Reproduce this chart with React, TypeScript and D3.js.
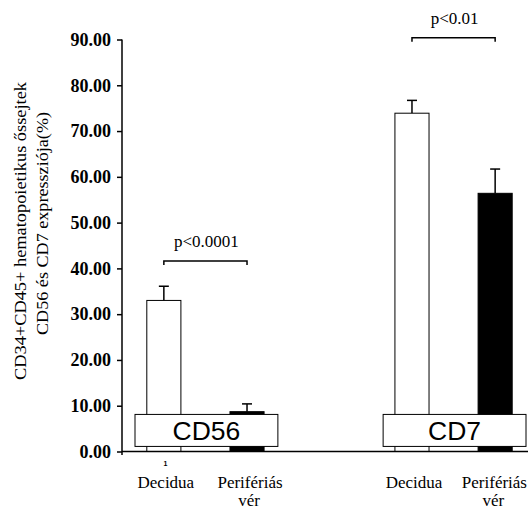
import React, { useEffect, useRef } from 'react';
import * as d3 from 'd3';

// CD56 / CD7 expression, decidua vs peripheral blood
const groups = ['CD56', 'CD7'];
const sources = ['Decidua', 'Perifériás vér'];
const deciduaMeans = [33.0, 73.9];
const deciduaErrors = [3.1, 2.8];
const periphMeans = [8.7, 56.4];
const periphErrors = [1.7, 5.3];
const pLabels = ['p<0.0001', 'p<0.01'];
const bracketLevels = [41.6, 90.4];
const yTicks = [0, 10, 20, 30, 40, 50, 60, 70, 80, 90];
const yTitleLines = ['CD34+CD45+ hematopoietikus őssejtek', 'CD56 és CD7 expressziója(%)'];

const W = 528;
const H = 510;
const SERIF = 'Liberation Serif, Times New Roman, serif';
const SANS = 'Liberation Sans, Arial, sans-serif';

export default function App() {
  const svgRef = useRef<SVGSVGElement>(null);

  useEffect(() => {
    if (!svgRef.current) return;
    const svg = d3.select(svgRef.current);
    svg.selectAll('*').remove();

    const margin = { top: 39.5, left: 122, bottom: 58.5 };
    const innerW = W - margin.left;
    const innerH = H - margin.top - margin.bottom;

    const y = d3.scaleLinear().domain([0, 90]).range([innerH, 0]);
    const xGroup = d3.scaleBand().domain(groups).range([9, innerW]).paddingInner(0.4);
    const xSub = d3.scaleBand().domain(sources).range([0, xGroup.bandwidth()]).paddingInner(0.59).paddingOuter(0.19);

    const g = svg.append('g').attr('transform', 'translate(' + margin.left + ',' + margin.top + ')');

    const bars = groups.flatMap((grp, i) => [
      { grp, src: sources[0], mean: deciduaMeans[i], err: deciduaErrors[i], fill: '#fff' },
      { grp, src: sources[1], mean: periphMeans[i], err: periphErrors[i], fill: '#000' },
    ]);
    const cx = (d: { grp: string; src: string }) => (xGroup(d.grp) as number) + (xSub(d.src) as number) + xSub.bandwidth() / 2;

    // error bars (upper only)
    bars.forEach((d) => {
      const x = cx(d);
      g.append('line').attr('x1', x).attr('x2', x).attr('y1', y(d.mean)).attr('y2', y(d.mean + d.err))
        .attr('stroke', '#000').attr('stroke-width', 1.5);
      g.append('line').attr('x1', x - 5).attr('x2', x + 5).attr('y1', y(d.mean + d.err)).attr('y2', y(d.mean + d.err))
        .attr('stroke', '#000').attr('stroke-width', 1.5);
    });

    // bars
    g.selectAll('rect.bar')
      .data(bars)
      .join('rect')
      .attr('class', 'bar')
      .attr('x', (d) => (xGroup(d.grp) as number) + (xSub(d.src) as number))
      .attr('y', (d) => y(d.mean))
      .attr('width', xSub.bandwidth())
      .attr('height', (d) => innerH - y(d.mean))
      .attr('fill', (d) => d.fill)
      .attr('stroke', '#000')
      .attr('stroke-width', 1);

    // group label boxes
    groups.forEach((grp) => {
      const bx = (xGroup(grp) as number) + 4;
      const bw = xGroup.bandwidth() - 6;
      const top = y(8.1);
      g.append('rect').attr('x', bx).attr('y', top).attr('width', bw).attr('height', 32)
        .attr('fill', '#fff').attr('stroke', '#000').attr('stroke-width', 1);
      g.append('text').attr('x', bx + bw / 2).attr('y', top + 25.5).attr('text-anchor', 'middle')
        .style('font-family', SANS).attr('font-size', 26.5).attr('fill', '#000').text(grp);
    });

    // significance brackets
    groups.forEach((grp, i) => {
      const x1 = cx({ grp, src: sources[0] });
      const x2 = cx({ grp, src: sources[1] });
      const yy = y(bracketLevels[i]);
      g.append('path').attr('d', 'M' + x1 + ',' + (yy + 4) + 'V' + yy + 'H' + x2 + 'V' + (yy + 4))
        .attr('fill', 'none').attr('stroke', '#000').attr('stroke-width', 1.5);
      g.append('text').attr('x', (x1 + x2) / 2 + 1).attr('y', yy - 14).attr('text-anchor', 'middle')
        .style('font-family', SERIF).attr('font-size', 17).attr('fill', '#000').text(pLabels[i]);
    });

    // y axis
    const yAxis = g.append('g').call(
      d3.axisLeft(y).tickValues(yTicks).tickSize(5).tickPadding(6).tickFormat((d) => (+d).toFixed(2))
    );
    yAxis.select('.domain').attr('d', 'M0,0V' + (innerH + 3.5)).attr('stroke-width', 1.5);
    yAxis.selectAll('line').attr('stroke-width', 1.5);
    yAxis.selectAll('text').style('font-family', SERIF).style('font-weight', 'bold').style('font-size', '18px').attr('fill', '#000');

    // x axis
    g.append('line').attr('x1', 0).attr('x2', innerW).attr('y1', innerH).attr('y2', innerH)
      .attr('stroke', '#000').attr('stroke-width', 1.5);
    g.append('text').attr('x', cx({ grp: groups[0], src: sources[0] }) + 1.5).attr('y', innerH + 14)
      .attr('text-anchor', 'middle').style('font-family', SANS).attr('font-weight', 'bold').attr('font-size', 7).text('1');

    // category labels
    bars.forEach((d) => {
      const lines = d.src.split(' ');
      const t = g.append('text').attr('text-anchor', 'middle').style('font-family', SERIF).attr('font-size', 17).attr('fill', '#000');
      lines.forEach((ln, k) => {
        t.append('tspan').attr('x', cx(d) + (k === 0 && lines.length > 1 ? 3 : 2)).attr('y', innerH + 36.5 + k * 18).text(ln);
      });
      // keep labels inside the right edge
      const box = (t.node() as SVGTextElement).getBBox();
      const over = box.x + box.width - (innerW - 1);
      if (over > 0) t.attr('transform', 'translate(' + -over + ',0)');
    });

    // y title
    const spans = [[82, 380, 25.5], [112, 335, 47.5]];
    yTitleLines.forEach((ln, i) => {
      const [y0, y1, bx] = spans[i];
      svg.append('text')
        .attr('transform', 'translate(' + bx + ',' + (y0 + y1) / 2 + ') rotate(-90)')
        .attr('text-anchor', 'middle').style('font-family', SERIF).attr('font-size', 16)
        .attr('textLength', y1 - y0).attr('lengthAdjust', 'spacingAndGlyphs').attr('fill', '#000').text(ln);
    });
  }, []);

  return (
    <div style={{ position: 'fixed', left: 0, top: 0, width: W, height: H, background: '#fff' }}>
      <svg ref={svgRef} width={W} height={H} style={{ display: 'block' }} />
    </div>
  );
}
